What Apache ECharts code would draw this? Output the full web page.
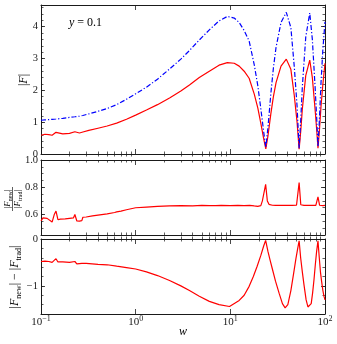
<!DOCTYPE html>
<html>
<head>
<meta charset="utf-8">
<script src="https://cdn.jsdelivr.net/npm/echarts@6/dist/echarts.min.js"></script>
<style>
  html, body { margin: 0; padding: 0; background: #fff; }
  #main { width: 337px; height: 344px; }
</style>
</head>
<body>
<div id="main"></div>
<script>
// top panel: |F| for the new (red) and traditional (blue) result
var wTop = [0.1, 0.11, 0.121, 0.131, 0.144, 0.151, 0.17, 0.2, 0.228, 0.239, 0.255, 0.277, 0.32, 0.4, 0.5, 0.63, 0.66, 0.8, 1.0, 1.3, 1.7, 2.28, 3.0, 3.7, 4.7, 6.0, 7.6, 9.3, 11, 12.4, 14, 15.8, 17.9, 19.5, 21, 22.5, 23.7, 25, 26.8, 28.5, 30.4, 34.3, 39, 43.6, 47.4, 50.7, 53.3, 55.5, 57.6, 62.6, 69, 73.5, 78.6, 81.5, 84.3, 87, 90.6, 95, 100];
var absTrad = [1.06, 1.07, 1.08, 1.09, 1.10, 1.10, 1.12, 1.15, 1.17, 1.18, 1.19, 1.21, 1.26, 1.34, 1.43, 1.55, 1.58, 1.72, 1.89, 2.1, 2.35, 2.67, 2.98, 3.25, 3.58, 3.9, 4.18, 4.32, 4.27, 4.13, 3.88, 3.55, 2.8, 2.15, 1.42, 0.7, 0.2, 0.85, 1.9, 2.7, 3.35, 4.13, 4.45, 3.97, 2.73, 1.5, 0.18, 1.1, 2.1, 3.67, 4.43, 3.6, 2.1, 1.2, 0.23, 1.0, 2.2, 3.3, 4.15];
var absNew = [0.59, 0.62, 0.61, 0.59, 0.68, 0.62, 0.63, 0.65, 0.70, 0.65, 0.66, 0.69, 0.74, 0.81, 0.88, 0.97, 0.98, 1.09, 1.22, 1.38, 1.55, 1.76, 1.98, 2.17, 2.4, 2.6, 2.79, 2.87, 2.85, 2.76, 2.6, 2.38, 1.88, 1.45, 0.96, 0.48, 0.16, 0.58, 1.27, 1.8, 2.24, 2.76, 2.98, 2.66, 1.83, 1.0, 0.15, 0.74, 1.41, 2.46, 2.95, 2.4, 1.4, 0.8, 0.18, 0.68, 1.47, 2.2, 2.85];

// middle panel: |F_new| / |F_trad|
var wRatio = [0.1, 0.105, 0.11, 0.116, 0.121, 0.131, 0.138, 0.144, 0.151, 0.16, 0.18, 0.2, 0.22, 0.228, 0.239, 0.255, 0.27, 0.277, 0.3, 0.35, 0.4, 0.5, 0.6, 0.63, 0.66, 0.7, 0.8, 1.0, 1.3, 1.7, 2.28, 3, 4, 5, 6, 7, 8, 10, 12, 14, 16, 17.9, 19.5, 21, 21.8, 23.6, 24.6, 25.6, 27.8, 30, 35, 40, 45, 50, 51.1, 53.3, 55.5, 57, 60, 65, 70, 75, 80, 81.9, 84.3, 87.7, 90, 95, 100];
var ratio = [0.553, 0.575, 0.582, 0.572, 0.57, 0.545, 0.6, 0.625, 0.562, 0.566, 0.568, 0.572, 0.575, 0.6, 0.553, 0.552, 0.555, 0.58, 0.582, 0.59, 0.596, 0.605, 0.615, 0.62, 0.608, 0.625, 0.635, 0.65, 0.655, 0.66, 0.664, 0.665, 0.664, 0.667, 0.666, 0.665, 0.667, 0.666, 0.667, 0.666, 0.667, 0.663, 0.66, 0.665, 0.7, 0.822, 0.7, 0.675, 0.668, 0.667, 0.668, 0.667, 0.667, 0.668, 0.67, 0.834, 0.672, 0.668, 0.667, 0.667, 0.667, 0.668, 0.667, 0.668, 0.73, 0.668, 0.667, 0.666, 0.667];

// bottom panel: |F_new| - |F_trad|
var wDiff = [0.1, 0.11, 0.121, 0.131, 0.144, 0.151, 0.17, 0.2, 0.228, 0.239, 0.27, 0.3, 0.4, 0.5, 0.63, 0.66, 0.8, 1.0, 1.3, 1.7, 2.28, 3.0, 3.7, 4.7, 6.0, 7.6, 9.8, 12.4, 14, 15.8, 17.5, 19.2, 21, 22.5, 23.6, 25, 26.3, 27.8, 30, 32.8, 35.5, 37.9, 40.5, 43.6, 46.5, 49.3, 51.5, 53.3, 55.3, 57.6, 60, 63.2, 66, 68.6, 71.5, 74, 76.5, 79, 81.5, 84.3, 87, 89.5, 92, 95, 97.5, 100];
var diff = [-0.48, -0.47, -0.48, -0.5, -0.42, -0.49, -0.49, -0.5, -0.48, -0.53, -0.52, -0.52, -0.54, -0.55, -0.58, -0.6, -0.61, -0.64, -0.7, -0.78, -0.885, -1.0, -1.1, -1.22, -1.33, -1.4, -1.44, -1.31, -1.2, -1.01, -0.8, -0.58, -0.35, -0.15, -0.03, -0.27, -0.45, -0.64, -0.9, -1.16, -1.38, -1.47, -1.4, -1.1, -0.75, -0.42, -0.2, -0.04, -0.4, -0.7, -0.98, -1.3, -1.45, -1.49, -1.38, -1.15, -0.87, -0.55, -0.27, -0.04, -0.4, -0.7, -0.9, -1.1, -1.22, -1.3];

// ticks
var xMajor = [0.1, 1, 10, 100];
var xExp = ['\u22121', '0', '1', '2'];
var xMinor = [];
[0.1, 1, 10].forEach(function (d) {
  for (var k = 2; k <= 9; k++) xMinor.push(+(d * k).toPrecision(3));
});

var panels = [
  { top: 5,   height: 149, min: 0,    max: 4.68, major: [0, 1, 2, 3, 4],  step: 0.2,  dec: 0 },
  { top: 160, height: 75,  min: 0.45, max: 1.0,  major: [0.6, 0.8, 1.0], step: 0.05, dec: 1 },
  { top: 239, height: 75,  min: -1.6, max: 0,    major: [-1, 0],          step: 0.2,  dec: 0 }
];

var FONT = 'Liberation Serif';
var INK = '#1a1a1a';

function minorOf(p) {
  var out = [];
  var n = Math.round((p.max - p.min) / p.step);
  for (var k = 0; k <= n; k++) {
    var v = +(p.min + k * p.step).toFixed(4);
    if (v <= p.max) out.push(v);
  }
  return out;
}

function fmtY(dec) {
  return function (v) {
    var s = (+v).toFixed(dec);
    if (+s === 0) s = (0).toFixed(dec);
    return s.replace('-', '\u2212');
  };
}

var grids = [], xAxes = [], yAxes = [], mainX = [], mainY = [];

panels.forEach(function (p, i) {
  // main grid: spines, major ticks, labels
  grids.push({ left: 41, right: 12, top: p.top, height: p.height });
  var g = grids.length - 1;
  ['bottom', 'top'].forEach(function (pos) {
    var withLabels = (i === 2 && pos === 'bottom');
    xAxes.push({
      type: 'log', logBase: 10, gridIndex: g, position: pos, min: 0.1, max: 100,
      axisLine: { show: true, onZero: false, lineStyle: { color: INK, width: 1 } },
      axisTick: { show: true, inside: true, length: 5, customValues: xMajor, lineStyle: { color: INK, width: 0.8 } },
      axisLabel: withLabels ? {
        show: true, margin: 1, customValues: xMajor,
        formatter: function (v) {
          var k = xMajor.indexOf(+(+v).toPrecision(3));
          return '{b|10}{s|' + xExp[k < 0 ? 0 : k] + '}';
        },
        rich: {
          b: { fontFamily: FONT, fontSize: 11, color: INK, lineHeight: 13, verticalAlign: 'bottom' },
          s: { fontFamily: FONT, fontSize: 8, color: INK, lineHeight: 8, verticalAlign: 'top' }
        }
      } : { show: false },
      splitLine: { show: false }
    });
    if (pos === 'bottom') mainX.push(xAxes.length - 1);
  });
  ['left', 'right'].forEach(function (pos) {
    yAxes.push({
      type: 'value', gridIndex: g, position: pos, min: p.min, max: p.max,
      axisLine: { show: true, onZero: false, lineStyle: { color: INK, width: 1 } },
      axisTick: { show: true, inside: true, length: 4, customValues: p.major, lineStyle: { color: INK, width: 0.8 } },
      axisLabel: pos === 'left' ? {
        show: true, margin: 3, customValues: p.major, formatter: fmtY(p.dec),
        fontFamily: FONT, fontSize: 10.5, color: INK
      } : { show: false },
      splitLine: { show: false }
    });
    if (pos === 'left') mainY.push(yAxes.length - 1);
  });
});

panels.forEach(function (p) {
  // overlay grid: minor ticks only
  grids.push({ left: 41, right: 12, top: p.top, height: p.height });
  var g = grids.length - 1;
  ['bottom', 'top'].forEach(function (pos) {
    xAxes.push({
      type: 'log', logBase: 10, gridIndex: g, position: pos, min: 0.1, max: 100,
      axisLine: { show: false },
      axisTick: { show: true, inside: true, length: 2.5, customValues: xMinor, lineStyle: { color: INK, width: 0.7 } },
      axisLabel: { show: false }, splitLine: { show: false }
    });
  });
  var minors = minorOf(p);
  ['left', 'right'].forEach(function (pos) {
    yAxes.push({
      type: 'value', gridIndex: g, position: pos, min: p.min, max: p.max,
      axisLine: { show: false },
      axisTick: { show: true, inside: true, length: 2.5, customValues: minors, lineStyle: { color: INK, width: 0.7 } },
      axisLabel: { show: false }, splitLine: { show: false }
    });
  });
});

function pairs(xs, ys) {
  return xs.map(function (x, i) { return [x, ys[i]]; });
}

function line(panel, xs, ys, color, type) {
  return {
    type: 'line', xAxisIndex: mainX[panel], yAxisIndex: mainY[panel],
    data: pairs(xs, ys), showSymbol: false, symbol: 'none', clip: true,
    lineStyle: { color: color, width: 1.2, type: type || 'solid' }
  };
}

var series = [
  line(0, wTop, absNew, '#ff0000'),
  line(0, wTop, absTrad, '#0000ff', [5, 2, 1.2, 2]),
  line(1, wRatio, ratio, '#ff0000'),
  line(2, wDiff, diff, '#ff0000')
];

var mathRich = {
  i: { fontFamily: FONT, fontStyle: 'italic', fontSize: 12, color: INK, lineHeight: 14, verticalAlign: 'top' },
  n: { fontFamily: FONT, fontSize: 12, color: INK, lineHeight: 14, verticalAlign: 'top' },
  s: { fontFamily: FONT, fontSize: 8, color: INK, lineHeight: 8, verticalAlign: 'bottom' }
};
var fracRich = {
  i: { fontFamily: FONT, fontStyle: 'italic', fontSize: 9, color: INK, lineHeight: 10, verticalAlign: 'top' },
  n: { fontFamily: FONT, fontSize: 9, color: INK, lineHeight: 10, verticalAlign: 'top' },
  s: { fontFamily: FONT, fontSize: 6, color: INK, lineHeight: 6, verticalAlign: 'bottom' }
};

var graphic = [
  { type: 'text', x: 69, y: 17, style: { text: '{i|y}{n| = 0.1}', rich: mathRich } },
  { type: 'text', x: 25, y: 80, rotation: Math.PI / 2,
    style: { text: '{n||}{i|F}{n||}', rich: mathRich, align: 'center', verticalAlign: 'middle' } },
  { type: 'group', x: 12.5, y: 199, rotation: Math.PI / 2, children: [
    { type: 'text', x: 0, y: -4.5, style: { text: '{n||}{i|F}{s|new}{n||}', rich: fracRich, align: 'center', verticalAlign: 'middle' } },
    { type: 'line', shape: { x1: -12, y1: 0, x2: 12, y2: 0 }, style: { stroke: INK, lineWidth: 0.7 } },
    { type: 'text', x: 0, y: 6, style: { text: '{n||}{i|F}{s|trad}{n||}', rich: fracRich, align: 'center', verticalAlign: 'middle' } }
  ] },
  { type: 'text', x: 16, y: 277, rotation: Math.PI / 2,
    style: { text: '{n||}{i|F}{s|new}{n|| \u2212 |}{i|F}{s|trad}{n||}', rich: mathRich, align: 'center', verticalAlign: 'middle' } },
  { type: 'text', x: 183, y: 333, style: { text: '{i|w}', rich: mathRich, align: 'center', verticalAlign: 'middle' } }
];

var chart = echarts.init(document.getElementById('main'), null, { renderer: 'canvas' });
chart.setOption({
  animation: false,
  backgroundColor: '#fff',
  grid: grids,
  xAxis: xAxes,
  yAxis: yAxes,
  series: series,
  graphic: graphic
});
</script>
</body>
</html>
